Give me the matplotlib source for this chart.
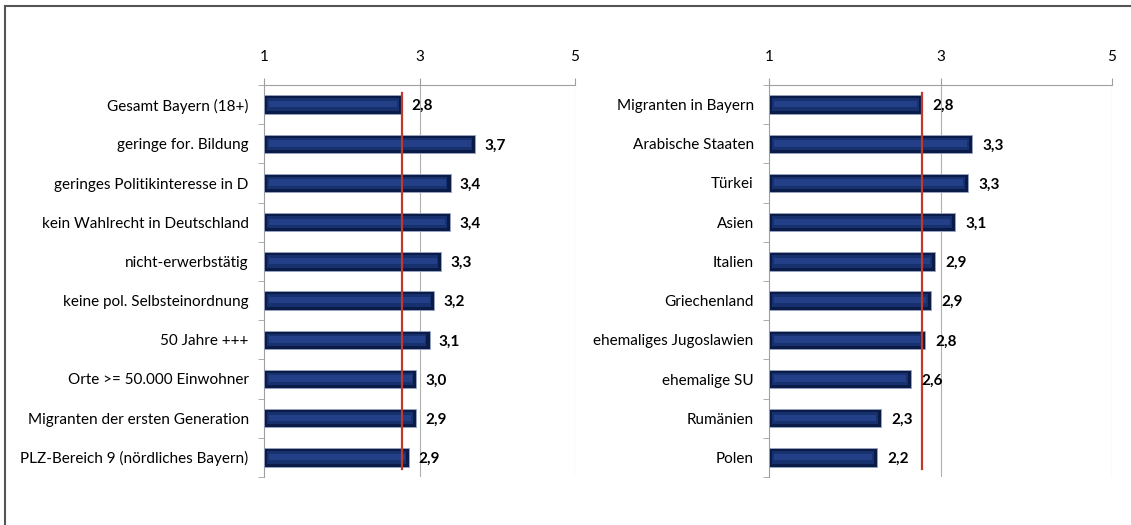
import numpy as np
import matplotlib
matplotlib.use("Agg")
import matplotlib.pyplot as plt
from matplotlib.lines import Line2D

plt.rcParams['font.family'] = ['Lato', 'DejaVu Sans']

# Left panel
left_labels = ["Gesamt Bayern (18+)", "geringe for. Bildung", "geringes Politikinteresse in D",
               "kein Wahlrecht in Deutschland", "nicht-erwerbstätig", "keine pol. Selbsteinordnung",
               "50 Jahre +++", "Orte >= 50.000 Einwohner", "Migranten der ersten Generation",
               "PLZ-Bereich 9 (nördliches Bayern)"]
left_values = [2.77, 3.72, 3.40, 3.39, 3.28, 3.19, 3.13, 2.96, 2.95, 2.87]
left_shown = ["2,8", "3,7", "3,4", "3,4", "3,3", "3,2", "3,1", "3,0", "2,9", "2,9"]
left_ref = 2.78

# Right panel
right_labels = ["Migranten in Bayern", "Arabische Staaten", "Türkei", "Asien", "Italien",
                "Griechenland", "ehemaliges Jugoslawien", "ehemalige SU", "Rumänien", "Polen"]
right_values = [2.79, 3.37, 3.32, 3.17, 2.94, 2.89, 2.82, 2.66, 2.31, 2.26]
right_shown = ["2,8", "3,3", "3,3", "3,1", "2,9", "2,9", "2,8", "2,6", "2,3", "2,2"]
right_ref = 2.79

ticks = [1, 3, 5]

W, H = 1131, 525
fig = plt.figure(figsize=(W / 100, H / 100), dpi=100)

# outer frame (left and top edges visible)
fig.add_artist(Line2D([5 / W, 5 / W], [0, 1 - 6 / H], color="#555555", lw=1.5))
fig.add_artist(Line2D([5 / W, 1], [1 - 6 / H, 1 - 6 / H], color="#555555", lw=1.5))


def panel(rect, labels, values, shown, ref):
    ax = fig.add_axes(rect)
    n = len(labels)
    y = np.arange(n)
    left = 1
    widths = np.array(values) - left
    # bevelled navy bars
    ax.barh(y, widths, left=left, height=0.47, color="#0B1B48", edgecolor="#9AA6C4",
            linewidth=0.6, zorder=3)
    ax.barh(y, widths - 0.08, left=left + 0.04, height=0.32, color="#17306E",
            linewidth=0, zorder=3)
    ax.barh(y - 0.01, widths - 0.12, left=left + 0.06, height=0.16, color="#223F88",
            linewidth=0, zorder=3)
    for yi, v, s in zip(y, values, shown):
        ax.text(v + 0.12, yi + 0.04, s, va="center", ha="left", fontsize=11,
                fontweight="bold", color="black", zorder=5)
    ax.plot([ref, ref], [-0.3, n - 0.7], color="#C0392B", lw=1.6, zorder=4)

    ax.set_xlim(1, 5)
    ax.set_ylim(n - 0.5, -0.5)
    ax.xaxis.tick_top()
    ax.set_xticks(ticks)
    ax.set_xticklabels([str(t) for t in ticks], fontsize=11)
    ax.tick_params(axis="x", length=5, color="#A0A0A0", pad=10)
    ax.set_yticks(y)
    ax.set_yticklabels(labels, fontsize=11)
    ax.set_yticks(np.arange(n + 1) - 0.5, minor=True)
    ax.tick_params(axis="y", which="major", length=0, pad=11)
    ax.tick_params(axis="y", which="minor", length=4, color="#A0A0A0")
    for sp in ["right", "bottom"]:
        ax.spines[sp].set_visible(False)
    for sp in ["top", "left"]:
        ax.spines[sp].set_color("#A0A0A0")
        ax.spines[sp].set_linewidth(0.8)
    for t in [3, 5]:
        ax.axvline(t, color="#B0B0B0", lw=0.8, zorder=1)
    return ax


panel([264 / W, 1 - 477 / H, (575 - 264) / W, (477 - 85) / H],
      left_labels, left_values, left_shown, left_ref)
panel([769 / W, 1 - 477 / H, (1112 - 769) / W, (477 - 85) / H],
      right_labels, right_values, right_shown, right_ref)

fig.savefig("out.png", dpi=100)
